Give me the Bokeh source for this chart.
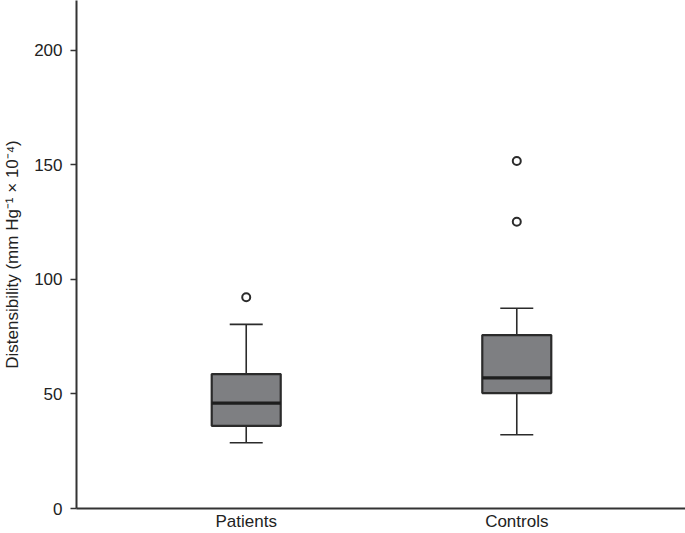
from bokeh.plotting import figure
from bokeh.models import Range1d, FixedTicker, ColumnDataSource
from bokeh.embed import file_html
from bokeh.resources import INLINE

# Data
groups = ["Patients", "Controls"]
positions = [1, 2]
q1 = [36.1, 50.4]
median = [46.0, 57.0]
q3 = [58.7, 75.7]
lower = [28.7, 32.2]
upper = [80.4, 87.4]
outlier_group = [1, 2, 2]
outlier_values = [92.2, 151.7, 125.2]
y_ticks = [0, 50, 100, 150, 200]

box_w = 0.255
cap_w = 0.122

p = figure(width=685, height=533, output_backend="svg", toolbar_location=None,
           x_range=Range1d(0.3727, 2.6236), y_range=Range1d(0, 221.8),
           min_border_left=75, min_border_right=0, min_border_top=0, min_border_bottom=24)
p.outline_line_color = None
p.xgrid.grid_line_color = None
p.ygrid.grid_line_color = None
p.background_fill_color = "white"
p.border_fill_color = "white"

src = ColumnDataSource(dict(x=positions, q1=q1, med=median, q3=q3, lo=lower, hi=upper,
                            left=[v - box_w / 2 for v in positions],
                            right=[v + box_w / 2 for v in positions],
                            cl=[v - cap_w / 2 for v in positions],
                            cr=[v + cap_w / 2 for v in positions]))

line_c = "#2b2b2b"
# whiskers
p.segment(x0="x", y0="q3", x1="x", y1="hi", source=src, line_color=line_c, line_width=1.6)
p.segment(x0="x", y0="q1", x1="x", y1="lo", source=src, line_color=line_c, line_width=1.6)
# caps
p.segment(x0="cl", y0="hi", x1="cr", y1="hi", source=src, line_color=line_c, line_width=1.6)
p.segment(x0="cl", y0="lo", x1="cr", y1="lo", source=src, line_color=line_c, line_width=1.6)
# boxes
p.vbar(x="x", width=box_w, bottom="q1", top="q3", source=src,
       fill_color="#7e7f82", line_color=line_c, line_width=2.2)
# medians
p.segment(x0="left", y0="med", x1="right", y1="med", source=src, line_color="#1e1e1e", line_width=3.2)
# outliers
p.scatter(x=outlier_group, y=outlier_values, marker="circle", size=8,
          fill_color="white", line_color=line_c, line_width=2)

# axes
for ax in (p.xaxis[0], p.yaxis[0]):
    ax.axis_line_color = "#333333"
    ax.axis_line_width = 2
    ax.major_tick_line_color = "#333333"
    ax.major_tick_line_width = 1.5
    ax.major_tick_in = 0
    ax.minor_tick_line_color = None
    ax.major_label_text_font = "Liberation Sans"
    ax.major_label_text_color = "#222222"

p.yaxis.major_tick_out = 6
p.yaxis.major_label_text_font_size = "17px"
p.yaxis.ticker = FixedTicker(ticks=y_ticks)
p.yaxis.major_label_standoff = 8
p.yaxis.axis_label = "Distensibility (mm Hg\u207b\u00b9 \u00d7 10\u207b\u2074)"
p.yaxis.axis_label_text_font = "Liberation Sans"
p.yaxis.axis_label_text_font_style = "normal"
p.yaxis.axis_label_text_font_size = "17px"
p.yaxis.axis_label_text_color = "#222222"
p.yaxis.axis_label_standoff = 9

p.xaxis.ticker = FixedTicker(ticks=positions)
p.xaxis.major_label_overrides = {pos: g for pos, g in zip(positions, groups)}
p.xaxis.major_tick_line_color = None
p.xaxis.major_tick_out = 0
p.xaxis.major_label_standoff = 3
p.xaxis.major_label_text_font_size = "17px"

open("out.html", "w").write(file_html(p, INLINE))
